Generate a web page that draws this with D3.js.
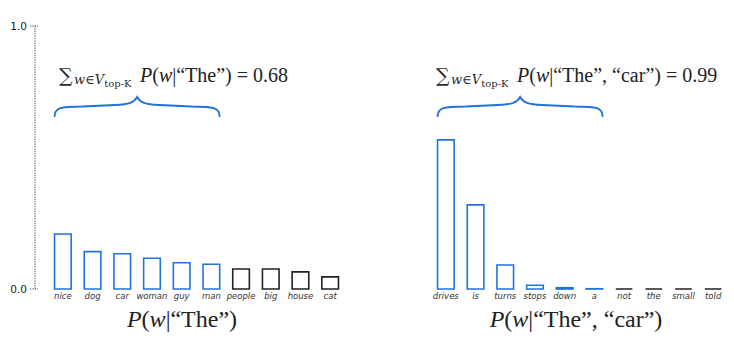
<!DOCTYPE html>
<html>
<head>
<meta charset="utf-8">
<script src="https://cdn.jsdelivr.net/npm/d3@7"></script>
<style>
body{margin:0;background:#fff;}
svg{display:block;}
.wl{font-family:"DejaVu Sans",sans-serif;font-style:italic;font-size:8.5px;fill:#333;}
.tk{font-family:"DejaVu Sans",sans-serif;font-size:10.5px;fill:#222;}
.mt{font-family:"Liberation Serif",serif;fill:#222;}
.sub{font-family:"DejaVu Serif",serif;fill:#2a2a2a;}
</style>
</head>
<body>
<svg id="chart" width="734" height="354"></svg>
<script>
// words + probabilities
var leftWords = ["nice","dog","car","woman","guy","man","people","big","house","cat"];
var leftProbs = [0.209,0.142,0.134,0.117,0.100,0.094,0.076,0.076,0.065,0.046];
var rightWords = ["drives","is","turns","stops","down","a","not","the","small","told"];
var rightProbs = [0.567,0.320,0.091,0.014,0.005,0.001,0,0,0,0];
var topK = 6;
var yTicks = [0,1];
var leftSum = "0.68";
var rightSum = "0.99";

var blue = "#2272dc";
var dark = "#222";

var svg = d3.select("#chart");

var y = d3.scaleLinear().domain([0,1]).range([289,26]);

// dotted y axis on the left panel only
svg.append("line")
	.attr("x1",35).attr("x2",35)
	.attr("y1",y(1)).attr("y2",y(0))
	.attr("stroke","#444").attr("stroke-width",1)
	.attr("stroke-dasharray","1.2,1.2");

svg.selectAll(".ytick")
	.data(yTicks)
	.enter()
	.append("line")
	.attr("x1",30).attr("x2",38)
	.attr("y1",function(d){return y(d)})
	.attr("y2",function(d){return y(d)})
	.attr("stroke","#444").attr("stroke-dasharray","1.2,1.2");

svg.selectAll(".ylab")
	.data(yTicks)
	.enter()
	.append("text")
	.attr("class","tk")
	.attr("x",27)
	.attr("y",function(d){return y(d)+4})
	.attr("text-anchor","end")
	.text(function(d){return d.toFixed(1)});

function drawPanel(words, probs, range, sum, ctx, sumX, titleX){
	var x = d3.scaleBand()
		.domain(words)
		.range(range)
		.paddingInner(0.44)
		.paddingOuter(0.22);

	var data = words.map(function(w,i){return {w:w,p:probs[i],i:i}});

	svg.append("g").selectAll("path")
		.data(data)
		.enter()
		.append("path")
		.attr("d",function(d){
			var x0 = x(d.w), x1 = x0 + x.bandwidth();
			return "M"+x0+","+y(0)+"V"+y(d.p)+"H"+x1+"V"+y(0)+"Z";
		})
		.attr("fill","none")
		.attr("stroke",function(d){return d.i<topK ? blue : dark})
		.attr("stroke-width",1.6);

	svg.append("g").selectAll("text")
		.data(data)
		.enter()
		.append("text")
		.attr("class","wl")
		.attr("x",function(d){return x(d.w)+x.bandwidth()/2})
		.attr("y",299)
		.attr("text-anchor","middle")
		.text(function(d){return d.w});

	// curly brace over the top-K bars
	var bx0 = x(words[0]), bx1 = x(words[topK-1]) + x.bandwidth();
	var bm = (bx0+bx1)/2, yb = 117, ya = 106.5, yt = 97;
	var br = "M"+bx0+","+yb+
		"C"+bx0+","+(ya+1)+" "+(bx0+6)+","+ya+" "+(bx0+28)+","+ya+
		"L"+(bm-22)+","+(ya-1.5)+
		"C"+(bm-8)+","+(ya-2)+" "+(bm-3)+","+(ya-4)+" "+bm+","+yt+
		"C"+(bm+3)+","+(ya-4)+" "+(bm+8)+","+(ya-2)+" "+(bm+22)+","+(ya-1.5)+
		"L"+(bx1-28)+","+ya+
		"C"+(bx1-6)+","+ya+" "+bx1+","+(ya+1)+" "+bx1+","+yb;
	svg.append("path").attr("d",br)
		.attr("fill","none").attr("stroke",blue).attr("stroke-width",1.8);

	// sum formula: sigma with subscript, then the probability
	var s = svg.append("text").attr("class","sub")
		.attr("x",sumX).attr("y",82);
	s.append("tspan").attr("font-size","19px").text("\u2211");
	s.append("tspan").attr("font-size","13px").attr("font-style","italic").attr("dy",2).attr("dx",1.5).text("w");
	s.append("tspan").attr("font-size","13px").text("\u2208");
	s.append("tspan").attr("font-size","13px").attr("font-style","italic").text("V");
	s.append("tspan").attr("font-size","10px").attr("dy",2.5).text("top-K");

	var f = svg.append("text").attr("class","mt")
		.attr("x",sumX+81).attr("y",82).attr("font-size","20px");
	f.append("tspan").attr("font-style","italic").text("P");
	f.append("tspan").text("(");
	f.append("tspan").attr("font-style","italic").text("w");
	f.append("tspan").text("|" + ctx + ") = " + sum);

	// x title
	var t = svg.append("text").attr("class","mt")
		.attr("x",titleX).attr("y",327)
		.attr("text-anchor","middle").attr("font-size","24px");
	t.append("tspan").attr("font-style","italic").text("P");
	t.append("tspan").text("(");
	t.append("tspan").attr("font-style","italic").text("w");
	t.append("tspan").text("|" + ctx + ")");
}

drawPanel(leftWords, leftProbs, [48,345], leftSum, "\u201CThe\u201D", 59, 182);
drawPanel(rightWords, rightProbs, [431,728], rightSum, "\u201CThe\u201D, \u201Ccar\u201D", 436, 576);
</script>
</body>
</html>
